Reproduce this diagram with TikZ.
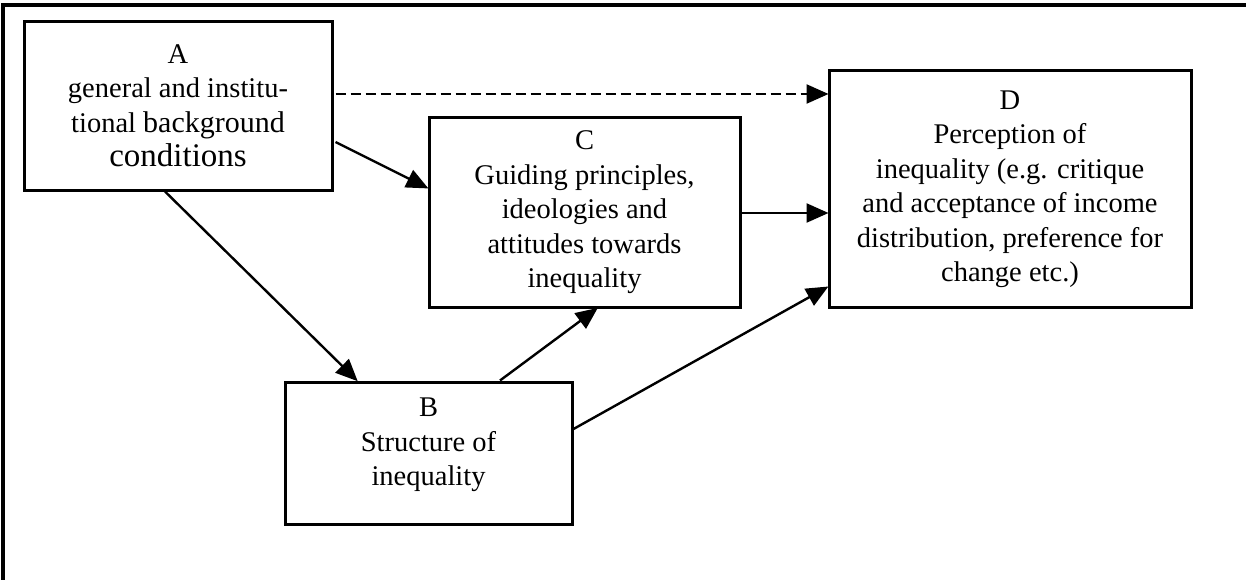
\documentclass[tikz,border=0pt]{standalone}
\usepackage{fontspec}
\setmainfont{Liberation Serif}
\usetikzlibrary{arrows.meta,calc}
\tikzset{
  box/.style={draw, line width=3pt, align=center, inner sep=0pt,
    font=\fontsize{28.5}{34.5}\selectfont},
  conn/.style={line width=2.4pt, -{Triangle[length=22pt,width=19pt]}, shorten >=-1pt},
  frameline/.style={line width=3.5pt}
}
\begin{document}
\begin{tikzpicture}[x=1pt,y=-1pt]
\useasboundingbox (0,0) rectangle (1246,580);
\coordinate (fb) at (3,580);
\coordinate (ftl) at (3,5);
\coordinate (ftr) at (1246,5);
\draw[frameline] (fb) -- (ftl) -- (ftr);

\node[box, minimum width=308pt, minimum height=168pt] (A) at (178,106)
  {A\\general and institu-\\tional {\fontsize{30}{34.5}\selectfont background}\\{\fontsize{33}{36}\selectfont conditions}};
\node[box, minimum width=311pt, minimum height=189pt] (C) at (584.5,212.5)
  {C\\Guiding principles,\\ideologies and\\attitudes towards\\inequality};
\node[box, minimum width=362pt, minimum height=236pt] (D) at (1010,189)
  {D\\Perception of\\inequality (e.g. critique\\and acceptance of income\\distribution, preference for\\change etc.)};
\node[box, minimum width=287pt, minimum height=142pt] (B) at (428.5,453)
  {B\\Structure of\\inequality\rule[-22pt]{0pt}{0pt}};

\draw[conn, dash pattern=on 10pt off 5pt] ($(A.east)+(2,-12)$) -- ($(D.west)+(0,-95)$);
\draw[conn] ($(A.east)+(2,36)$) -- ($(C.west)+(0,-24.5)$);
\draw[conn] ($(C.east)+(0,0.5)$) -- ($(D.west)+(0,24)$);
\draw[conn] ($(A.south)+(-13,0)$) -- ($(B.north)+(-71.5,0)$);
\draw[conn] ($(B.north)+(71.5,0)$) -- ($(C.south)+(12.5,0)$);
\draw[conn] ($(B.east)+(0,-24)$) -- ($(D.west)+(0,98)$);
\end{tikzpicture}
\end{document}
